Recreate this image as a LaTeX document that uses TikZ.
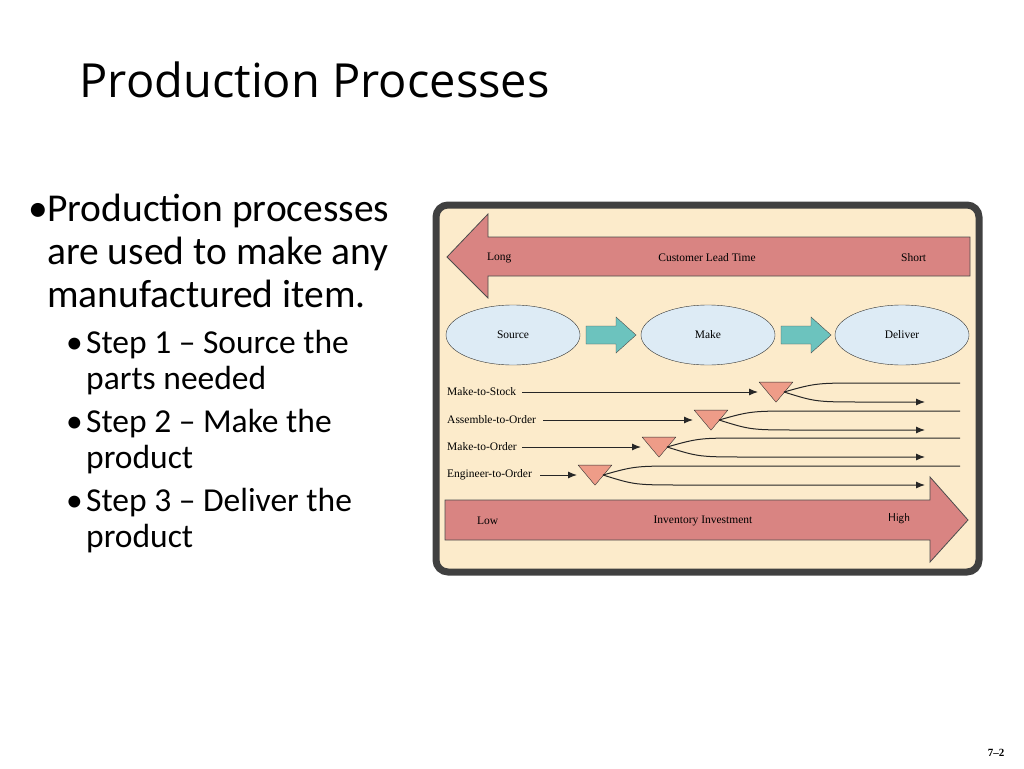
\documentclass[tikz,border=0pt]{standalone}
\usepackage{fontspec}
\setmainfont{Carlito}
\newfontfamily\titlef{Open Sans}
\newfontfamily\diagf{Liberation Serif}
\usetikzlibrary{arrows.meta,shapes.geometric}
\definecolor{beige}{HTML}{FCEBCB}
\definecolor{redarr}{HTML}{D98482}
\definecolor{ellip}{HTML}{DDEBF5}
\definecolor{teal}{HTML}{6CC3BE}
\definecolor{tri}{HTML}{EE9C88}
\begin{document}
\begin{tikzpicture}[x=1pt,y=-1pt,
  lbl/.style={font=\diagf\fontsize{11.5}{12}\selectfont,anchor=west,inner sep=0},
  ell/.style={ellipse,draw=black!80,fill=ellip,minimum width=134pt,minimum height=60pt,font=\diagf\fontsize{11.5}{12}\selectfont},
  flow/.style={-{Latex[length=9pt,width=7pt]},black!85,line width=1pt},
  trin/.style={isosceles triangle,shape border rotate=-90,isosceles triangle apex angle=80,draw=black!80,fill=tri,minimum height=20pt,inner sep=0,minimum width=32pt},
  big/.style={draw=black!70,fill=redarr,line width=0.8pt}]
\useasboundingbox (0,0) rectangle (1024,768);
\node[anchor=west,font=\titlef\fontsize{47}{50}\selectfont] (title) at (76,80) {Production Processes};
\node[anchor=north west,inner sep=0,align=left,font=\fontsize{39.5}{43}\selectfont] (b1) at (28,194)
 {\makebox[19pt][l]{•}Production processes\\\hspace*{19pt}are used to make any\\\hspace*{19pt}manufactured item.};
\node[anchor=north west,inner sep=0,align=left,font=\fontsize{33.5}{36.5}\selectfont] (b2) at (66,330)
 {\makebox[20pt][l]{•}Step 1 – Source the\\\hspace*{20pt}parts needed\\[6pt]
  \makebox[20pt][l]{•}Step 2 – Make the\\\hspace*{20pt}product\\[6pt]
  \makebox[20pt][l]{•}Step 3 – Deliver the\\\hspace*{20pt}product};
\draw[line width=7pt,draw=black!75,fill=beige,rounded corners=12pt] (436,205) rectangle (979,572);
% top arrow
\draw[big] (447,257) -- (488,214) -- (488,237) -- (970,237) -- (970,276) -- (488,276) -- (488,298) -- cycle;
\node[lbl] (long) at (487,258) {Long};
\node[font=\diagf\fontsize{11.5}{12}\selectfont] (clt) at (707,258) {Customer Lead Time};
\node[lbl] (short) at (901,258) {Short};
% ellipses
\node[ell] (src) at (513,335) {Source};
\node[ell] (mk) at (708,335) {Make};
\node[ell] (dl) at (902,335) {Deliver};
\foreach \a in {586,781}{
 \draw[draw=black!70,fill=teal] (\a,326) -- (\a+30,326) -- (\a+30,317) -- (\a+50,335) -- (\a+30,353) -- (\a+30,344) -- (\a,344) -- cycle;}
% rows
\foreach \y/\t/\sx/\tx/\n in {392/Make-to-Stock/522/776/r1,420/Assemble-to-Order/543/711/r2,447/Make-to-Order/522/659/r3,475/Engineer-to-Order/540/595/r4}{
 \node[lbl] (\n l) at (447,\y) {\t};
 \node[trin] (\n t) at (\tx,\y-2) {};
 \coordinate (\n s) at (\sx,\y);
 \coordinate (\n a) at (925,\y+10);
 \coordinate (\n e) at (960,\y-9);
 \draw[flow] (\n s) -- (\tx-18,\y);
 \draw[black!85,line width=1pt] (\tx+8,\y) .. controls (\tx+40,\y-9) .. (\tx+90,\y-9) -- (\n e);
 \draw[flow] (\tx+8,\y) .. controls (\tx+40,\y+10) .. (\tx+90,\y+10) -- (\n a);
}
% bottom arrow
\draw[big] (445,500) -- (930,500) -- (930,477) -- (968,520) -- (930,562) -- (930,540) -- (445,540) -- cycle;
\node[lbl] (low) at (477,521) {Low};
\node[font=\diagf\fontsize{11.5}{12}\selectfont] (inv) at (703,521) {Inventory Investment};
\node[lbl,font=\sffamily\fontsize{11.5}{12}\selectfont] (high) at (888,519) {High};
\node[font=\diagf\bfseries\fontsize{11}{12}\selectfont] (pg) at (996,753) {7–2};
\end{tikzpicture}
\end{document}
